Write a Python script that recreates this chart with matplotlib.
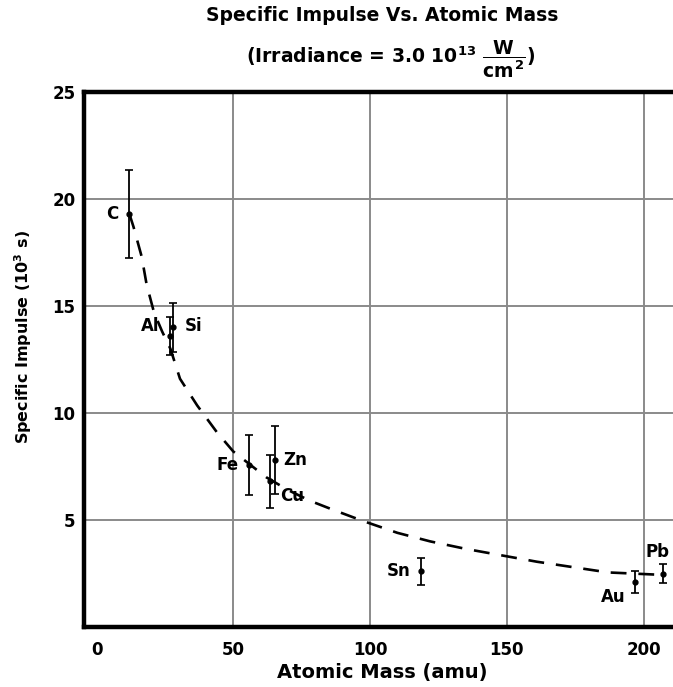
import matplotlib
matplotlib.use("Agg")
import matplotlib.pyplot as plt

plt.rcParams['font.family'] = ['DejaVu Sans']
plt.rcParams['font.weight'] = 'bold'
plt.rcParams['mathtext.fontset'] = 'custom'
plt.rcParams['mathtext.rm'] = 'DejaVu Sans:bold'
plt.rcParams['mathtext.it'] = 'DejaVu Sans:bold'
plt.rcParams['mathtext.bf'] = 'DejaVu Sans:bold'

# data
elements = ['C', 'Al', 'Si', 'Fe', 'Cu', 'Zn', 'Sn', 'Au', 'Pb']
mass = [12.0, 27.0, 28.1, 55.8, 63.5, 65.4, 118.7, 197.0, 207.2]
impulse = [19.3, 13.6, 14.0, 7.55, 6.8, 7.8, 2.6, 2.1, 2.5]
impulse_err = [2.05, 0.9, 1.15, 1.4, 1.25, 1.6, 0.64, 0.5, 0.43]

curve_x = [12, 13.5, 16.5, 18.3, 21, 24, 27, 30.5, 36.8, 44, 50, 55, 62, 70,
           78, 86, 97.5, 110, 122, 135, 148, 161, 174, 187, 206]
curve_y = [19.3, 18.7, 17.3, 16.0, 14.7, 13.8, 13.0, 11.6, 10.35, 9.1, 8.2,
           7.7, 7.0, 6.4, 5.9, 5.5, 4.95, 4.4, 4.0, 3.65, 3.35, 3.05, 2.8,
           2.55, 2.44]

xticks = [0, 50, 100, 150, 200]
yticks = [5, 10, 15, 20, 25]

# label offsets (points) relative to each data point
label_offsets = {'C': (-12.5, 0), 'Al': (-14.4, 7), 'Si': (14.5, 1),
                 'Fe': (-15.7, 0), 'Cu': (15.8, -10.8), 'Zn': (14, 0),
                 'Sn': (-16.2, 0), 'Au': (-16, -10.4), 'Pb': (-4.5, 15.8)}

fig = plt.figure(figsize=(6.73, 6.87), dpi=100)
ax = fig.add_axes([84/673, 1-627/687, 1.0-84/673 + 0.003, (627-92)/687])

ax.set_xlim(-4.6, 211.5)
ax.set_ylim(0, 25)

ax.set_xticks(xticks)
ax.set_yticks(yticks)
ax.grid(True, color='#8a8a8a', linewidth=1.4)
ax.xaxis.get_gridlines()[0].set_visible(False)
ax.yaxis.get_gridlines()[-1].set_visible(False)
ax.set_axisbelow(True)
ax.tick_params(length=0, labelsize=12, pad=10)
ax.tick_params(axis='y', pad=6)
for lab in ax.get_xticklabels() + ax.get_yticklabels():
    lab.set_fontweight('bold')

for s in ['left', 'bottom', 'top']:
    ax.spines[s].set_linewidth(3.2)
ax.spines['right'].set_visible(False)

ax.plot(curve_x, curve_y, color='black', linewidth=1.9,
        linestyle=(0, (6, 4.5)), zorder=3)

ax.errorbar(mass, impulse, yerr=impulse_err, fmt='o', color='black',
            markersize=3.5, elinewidth=1.3, capsize=3, capthick=1.2, zorder=4)

for el, m, v in zip(elements, mass, impulse):
    dx, dy = label_offsets[el]
    ax.annotate(el, (m, v), xytext=(dx, dy), textcoords='offset points',
                ha='center', va='center', fontsize=12, fontweight='bold')

ax.set_ylabel('Specific Impulse (10$^3$ s)', fontsize=11.5, fontweight='bold')
ax.yaxis.label.set_va('center')
ax.yaxis.set_label_coords(-0.1036, 0.542)
ax.set_xlabel('Atomic Mass (amu)', fontsize=14, fontweight='bold')
ax.xaxis.label.set_va('center')
ax.xaxis.set_label_coords(0.504, -0.0845)

fig.text(0.568, 0.977, 'Specific Impulse Vs. Atomic Mass', ha='center',
         va='center', fontsize=13.5, fontweight='bold')
fig.text(0.581, 0.914, r'(Irradiance = 3.0 10$^{13}$ $\dfrac{W}{cm^2}$)',
         ha='center', va='center', fontsize=13.5, fontweight='bold')

fig.savefig('out.png', dpi=100)
